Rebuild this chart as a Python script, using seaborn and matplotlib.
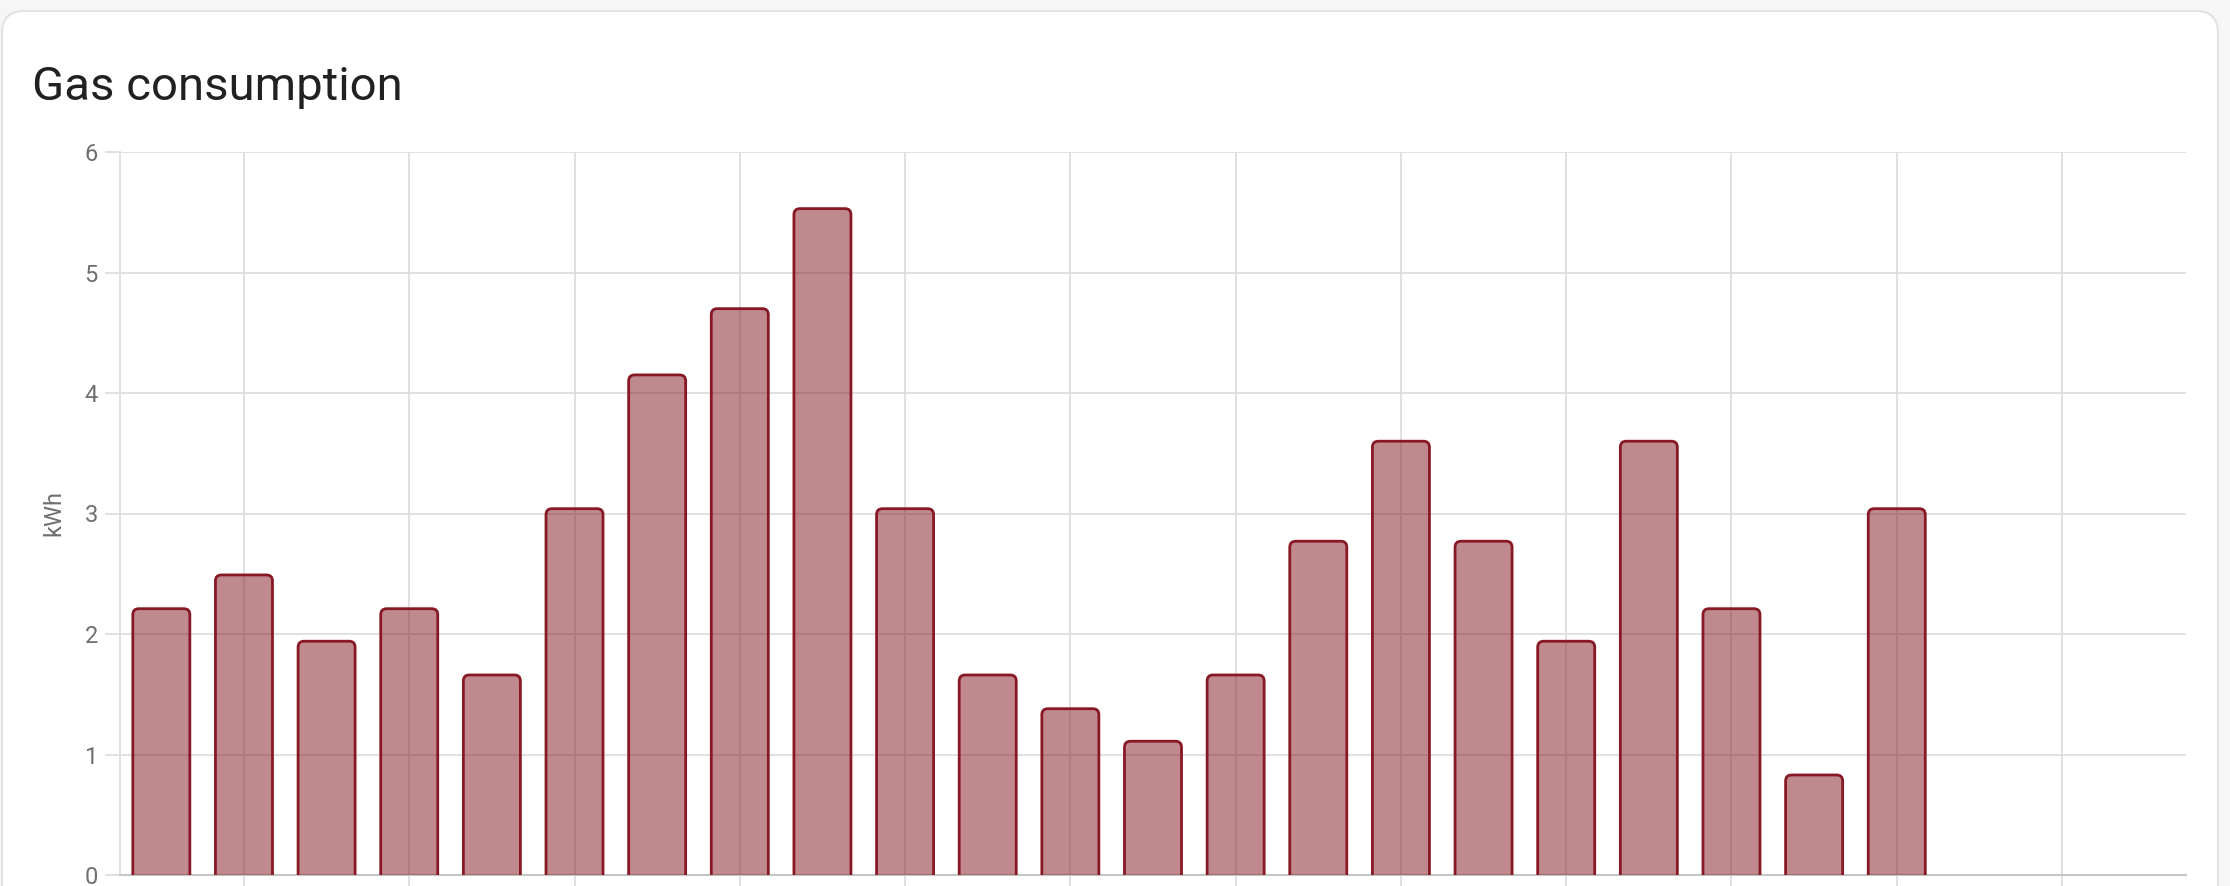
import matplotlib
matplotlib.use("Agg")
import matplotlib.pyplot as plt
from matplotlib.patches import FancyBboxPatch
import seaborn as sns
import pandas as pd

# hourly gas use, one bar per hour
hours = list(range(22))
kwh = [2.21, 2.49, 1.94, 2.21, 1.66, 3.04, 4.15, 4.70, 5.53, 3.04, 1.66,
       1.38, 1.11, 1.66, 2.77, 3.60, 2.77, 1.94, 3.60, 2.21, 0.83, 3.04]
y_ticks = [0, 1, 2, 3, 4, 5, 6]
grid_slots = list(range(1, 24, 2))

W, H, DPI = 2230, 886, 100
bar_red = "#81151d"
edge_red = "#881824"
grid_grey = "#dedede"
text_grey = "#6f6f6f"

sns.set_theme(style="white")
plt.rcParams["font.family"] = ["Roboto", "DejaVu Sans"]

df = pd.DataFrame({"hour": hours, "kwh": kwh})

fig = plt.figure(figsize=(W / DPI, H / DPI), dpi=DPI)
fig.patch.set_facecolor("#f6f6f6")

# card background, drawn in pixel units
bg = fig.add_axes([0, 0, 1, 1], zorder=0)
bg.set_xlim(0, W)
bg.set_ylim(H, 0)
bg.axis("off")
bg.add_patch(FancyBboxPatch((2, 11), 2216, 920,
                            boxstyle="round,pad=0,rounding_size=22",
                            facecolor="white", edgecolor="#e2e2e2", lw=1.5))

left, right, top, bottom = 120, 2186, 152, 875
ax = fig.add_axes([left / W, 1 - bottom / H, (right - left) / W, (bottom - top) / H], zorder=1)
ax.set_facecolor("none")

sns.barplot(data=df, x="hour", y="kwh", order=hours, color=bar_red, width=0.69,
            saturation=1, ax=ax)

ax.set_xlim(-0.5, 24.5)
ax.set_ylim(0, 6)

# swap plain bars for ones with rounded top corners
px_x = (right - left) / 25.0
px_y = (bottom - top) / 6.0
r = 6.0 / px_x
for p in list(ax.patches):
    x0, w, h = p.get_x(), p.get_width(), p.get_height()
    p.set_visible(False)
    fb = FancyBboxPatch((x0, -0.3), w, h + 0.3,
                        boxstyle=f"round,pad=0,rounding_size={r}",
                        mutation_aspect=px_x / px_y,
                        edgecolor=edge_red, lw=2.0, zorder=3)
    fb.set_facecolor((0.506, 0.082, 0.114, 0.5))
    ax.add_patch(fb)

ax.set_yticks(y_ticks)
ax.set_xticks(grid_slots)
ax.set_xticklabels([])
ax.grid(True, color=grid_grey, lw=1.3, zorder=0)
ax.set_axisbelow(True)
ax.tick_params(axis="y", length=11, width=1.3, color=grid_grey, pad=5,
               labelsize=17, labelcolor=text_grey, left=True)
ax.tick_params(axis="x", length=12, width=1.3, color=grid_grey, bottom=True)

for side in ["top", "right"]:
    ax.spines[side].set_visible(False)
ax.spines["left"].set_color(grid_grey)
ax.spines["left"].set_linewidth(1.3)
ax.spines["bottom"].set_color("#c6c6c6")
ax.spines["bottom"].set_linewidth(1.5)

ax.set_xlabel("")
ax.set_ylabel("kWh", fontsize=17, color=text_grey)
ax.yaxis.set_label_coords((65 - left) / (right - left), 0.5)

fig.text(32 / W, 1 - 100 / H, "Gas consumption", fontsize=34, color="#212121",
         ha="left", va="baseline")

fig.savefig("out.png", dpi=DPI, facecolor=fig.get_facecolor())
